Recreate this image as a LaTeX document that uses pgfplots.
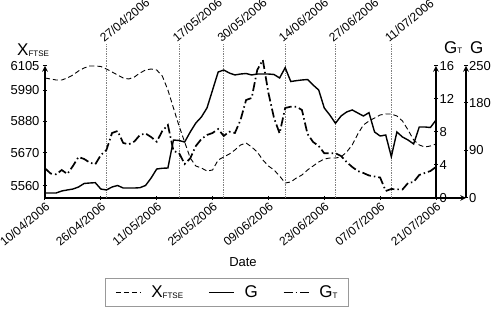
\documentclass[border=0pt]{standalone}
\usepackage{pgfplots}
\usepackage{pgfplotstable}
\pgfplotsset{compat=1.18}
\usepackage{fontspec}
\setmainfont{Liberation Sans}

\pgfplotstableread{
i v
0 6050.5
1 6046.0
2 6041.4
3 6041.4
4 6050.5
5 6064.1
6 6082.3
7 6095.9
8 6105.0
9 6105.0
10 6102.7
11 6091.4
12 6077.8
13 6064.1
14 6050.5
15 6046.0
16 6055.0
17 6073.2
18 6086.8
19 6091.4
20 6086.8
21 6059.6
22 5996.0
23 5914.2
24 5832.5
25 5759.8
26 5687.2
27 5650.8
28 5641.7
29 5628.1
30 5632.7
31 5678.1
32 5691.7
33 5705.3
34 5723.5
35 5746.2
36 5755.3
37 5737.1
38 5714.4
39 5678.1
40 5650.8
41 5632.7
42 5605.4
43 5573.6
44 5578.2
45 5596.3
46 5610.0
47 5632.7
48 5650.8
49 5669.0
50 5682.6
51 5687.2
52 5687.2
53 5691.7
54 5714.4
55 5746.2
56 5796.2
57 5837.0
58 5855.2
59 5868.8
60 5882.5
61 5887.0
62 5887.0
63 5877.9
64 5855.2
65 5814.3
66 5768.9
67 5746.2
68 5737.1
69 5741.7
70 5750.7
}\ftse

\pgfplotstableread{
i v
0 9.5
1 9.5
2 9.5
3 13.3
4 15.2
5 17.0
6 20.8
7 27.5
8 28.4
9 29.0
10 17.0
11 15.2
12 20.8
13 23.7
14 18.9
15 18.9
16 18.9
17 19.5
18 23.7
19 37.9
20 54.9
21 56.3
22 56.8
23 109.8
24 108.9
25 106.0
26 125.0
27 142.0
28 153.4
29 170.5
30 204.5
31 238.6
32 242.4
33 236.7
34 233.0
35 234.8
36 235.8
37 233.0
38 234.8
39 234.8
40 234.8
41 233.9
42 227.3
43 246.8
44 220.6
45 222.2
46 223.5
47 224.4
48 214.0
49 204.5
50 170.4
51 157.0
52 141.5
53 155.3
54 162.9
55 166.7
56 161.0
57 155.3
58 161.6
59 125.0
60 117.4
61 119.3
62 78.2
63 125.0
64 115.5
65 109.8
66 102.3
67 134.5
68 134.5
69 133.5
70 147.7
}\gdata

\pgfplotstableread{
i v
0 3.60
1 2.97
2 2.87
3 3.39
4 2.91
5 3.88
6 4.97
7 4.73
8 4.30
9 4.08
10 5.21
11 5.82
12 7.88
13 8.12
14 6.67
15 6.51
16 6.85
17 7.64
18 7.82
19 7.39
20 6.82
21 8.12
22 8.85
23 5.70
24 5.45
25 4.12
26 4.81
27 6.30
28 7.15
29 7.64
30 7.88
31 8.36
32 7.52
33 8.04
34 7.88
35 9.45
36 11.88
37 12.12
38 15.52
39 16.73
40 12.73
41 9.70
42 7.84
43 10.91
44 11.07
45 11.07
46 10.67
47 7.76
48 6.79
49 6.30
50 5.42
51 5.42
52 5.42
53 5.09
54 4.36
55 3.76
56 3.27
57 3.03
58 2.73
59 2.61
60 2.48
61 0.85
62 1.09
63 1.05
64 1.03
65 1.82
66 1.94
67 2.79
68 3.03
69 3.27
70 3.76
}\gt

\tikzset{
  ftsestyle/.style={black, line width=0.9pt, dash pattern=on 5pt off 3pt},
  gstyle/.style={black, line width=1.4pt},
  gtstyle/.style={black, line width=1.7pt, dash pattern=on 9pt off 3pt on 1.5pt off 3pt},
  toplab/.style={rotate=40, anchor=south west, inner sep=0.5pt, font=\fontsize{12}{14}\selectfont},
  vdot/.style={gray, densely dotted, line width=0.7pt},
}
\pgfplotsset{
  myax/.style={
    scale only axis, height=132pt, clip=false,
    axis line style={-, line width=1.5pt},
    tick align=inside, major tick length=4pt,
    tick style={black, line width=1pt},
    tick label style={font=\fontsize{13}{15}\selectfont},
  },
}

\begin{document}
\begin{tikzpicture}
\begin{axis}[myax,
  width=421pt,
  xmin=0, xmax=75.37, ymin=5505.5, ymax=6105,
  axis x line=bottom, axis y line=left,
  xtick={0,10,20,30,40,50,60,70},
  xticklabels={10/04/2006,26/04/2006,11/05/2006,25/05/2006,09/06/2006,23/06/2006,07/07/2006,21/07/2006},
  xticklabel style={rotate=40, anchor=north east, inner sep=1pt, font=\fontsize{12}{14}\selectfont},
  ytick={5560,5710,5855,5994,6105},
  yticklabels={5560,5670,5880,5990,6105},
  xlabel={Date},
  xlabel style={at={(axis description cs:0.4703,-0.485)}, anchor=center, font=\fontsize{13}{15}\selectfont},
  legend columns=3,
  legend style={at={(axis description cs:0.4323,-0.716)}, anchor=center,
    draw=gray!80, line width=1pt, font=\fontsize{17}{20}\selectfont,
    inner xsep=10pt, inner ysep=6pt, nodes={inner sep=1pt},
    /tikz/every odd column/.append style={column sep=9pt},
    /tikz/every even column/.append style={column sep=24pt}},
  legend image code/.code={\draw[#1] (0pt,0pt) -- (25pt,0pt);},
]
\addplot[ftsestyle] table[x=i,y=v] {\ftse};
\addlegendentry{X\raisebox{-1pt}{\fontsize{8}{9}\selectfont FTSE}}
\addlegendimage{gstyle}
\addlegendentry{G}
\addlegendimage{gtstyle}
\addlegendentry{G\raisebox{-0.5pt}{\fontsize{8}{9}\selectfont T}}

\draw[vdot] (axis cs:11,5505.5) -- (axis cs:11,6205);
\draw[vdot] (axis cs:24,5505.5) -- (axis cs:24,6205);
\draw[vdot] (axis cs:32,5505.5) -- (axis cs:32,6205);
\draw[vdot] (axis cs:43,5505.5) -- (axis cs:43,6205);
\draw[vdot] (axis cs:52,5505.5) -- (axis cs:52,6205);
\draw[vdot] (axis cs:62,5505.5) -- (axis cs:62,6205);
\node[toplab] at ([xshift=-2pt]axis cs:11,6205) {27/04/2006};
\node[toplab] at ([xshift=-2pt]axis cs:24,6205) {17/05/2006};
\node[toplab] at ([xshift=-2pt]axis cs:32,6205) {30/05/2006};
\node[toplab] at ([xshift=-2pt]axis cs:43,6205) {14/06/2006};
\node[toplab] at ([xshift=-2pt]axis cs:52,6205) {27/06/2006};
\node[toplab] at ([xshift=-2pt]axis cs:62,6205) {11/07/2006};

\node[anchor=base west, inner sep=0pt, font=\fontsize{17}{20}\selectfont] at (axis description cs:-0.0665,1.083) {X\raisebox{-1pt}{\fontsize{8}{9}\selectfont FTSE}};
\end{axis}

\begin{axis}[myax,
  width=391pt,
  xmin=0, xmax=70, ymin=0, ymax=16,
  axis x line=none, axis y line=right,
  ytick={0,4,8,12,16},
  yticklabels={0,4,8,12,16},
  yticklabel style={inner sep=1.5pt},
]
\addplot[gtstyle] table[x=i,y=v] {\gt};
\node[anchor=base west, inner sep=0pt, font=\fontsize{17}{20}\selectfont] at (axis description cs:1.0205,1.098) {G\raisebox{-0.5pt}{\fontsize{8}{9}\selectfont T}};
\end{axis}

\begin{axis}[myax,
  width=421pt,
  xmin=0, xmax=75.37, ymin=0, ymax=250,
  axis x line=none, axis y line=right,
  ytick={0,90,180,250},
  yticklabels={0,90,180,250},
  yticklabel style={inner sep=1pt},
]
\addplot[gstyle] table[x=i,y=v] {\gdata};
\node[anchor=base west, inner sep=0pt, font=\fontsize{17}{20}\selectfont] at (axis description cs:1.0095,1.098) {G};
\end{axis}

\pgfresetboundingbox
\path[use as bounding box] (-45pt,-112pt) rectangle (446pt,198pt);
\end{tikzpicture}
\end{document}
